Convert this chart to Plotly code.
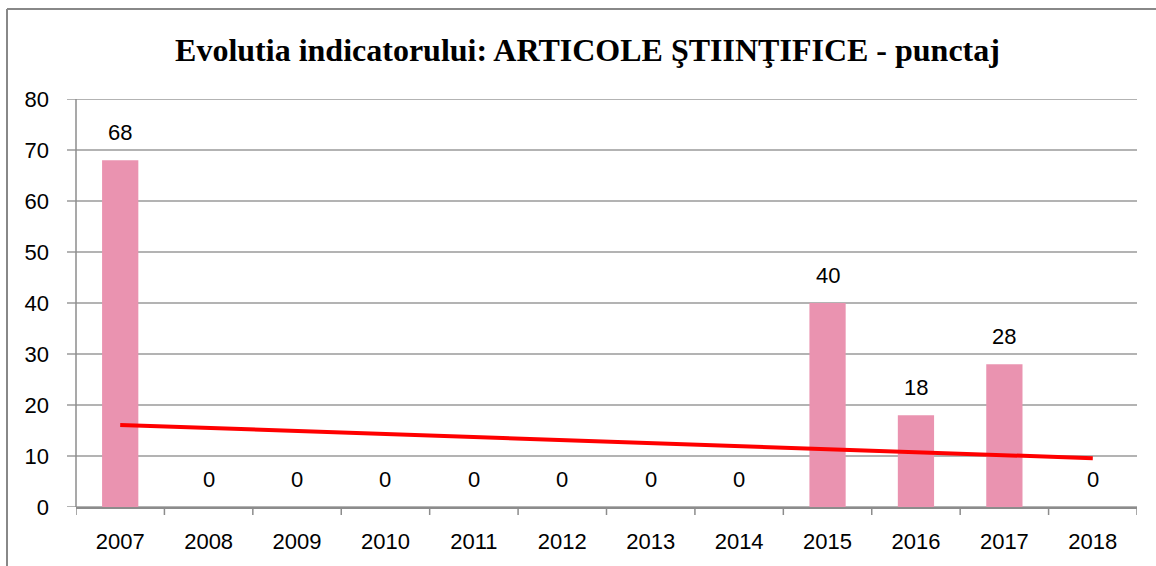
import numpy as np
import plotly.graph_objects as go

years = ["2007", "2008", "2009", "2010", "2011", "2012", "2013", "2014", "2015", "2016", "2017", "2018"]
values = [68, 0, 0, 0, 0, 0, 0, 0, 40, 18, 28, 0]
y_ticks = [0, 10, 20, 30, 40, 50, 60, 70, 80]

idx = np.arange(len(values))
slope, intercept = np.polyfit(idx, values, 1)
trend = slope * idx + intercept

W, H = 1156, 566
L, R, T, B = 76, 1137, 99, 507
pw, ph = R - L, B - T
FONT = "Liberation Sans, Arial"

fig = go.Figure()
fig.add_trace(go.Bar(
    x=idx, y=values, width=0.41,
    marker=dict(color="#EA93B0", line=dict(width=0)),
    hoverinfo="skip", showlegend=False,
))
fig.add_trace(go.Scatter(
    x=[idx[0], idx[-1]], y=[trend[0], trend[-1]], mode="lines",
    line=dict(color="#FF0000", width=4), showlegend=False, hoverinfo="skip",
))

annotations = []
for i, v in zip(idx, values):
    annotations.append(dict(x=i, y=v, xref="x", yref="y", text=str(v), showarrow=False,
                            yanchor="bottom", yshift=13,
                            font=dict(family=FONT, size=22, color="#000000")))

shapes = []
shapes.append(dict(type="line", xref="paper", yref="paper", x0=0, x1=0, y0=0, y1=1,
                   line=dict(color="#8C8C8C", width=1.5)))
for t in y_ticks:
    shapes.append(dict(type="line", xref="paper", yref="y", x0=-9 / pw, x1=1, y0=t, y1=t,
                       line=dict(color="#9A9A9A", width=1.5), layer="below"))
for k in range(len(years) + 1):
    shapes.append(dict(type="line", xref="x", yref="paper", x0=k - 0.5, x1=k - 0.5,
                       y0=0, y1=-8 / ph, line=dict(color="#8C8C8C", width=1.5)))
# outer chart border (left and top)
shapes.append(dict(type="line", xref="paper", yref="paper",
                   x0=(7 - L) / pw, x1=(W + 10 - L) / pw, y0=1 + (T - 9) / ph, y1=1 + (T - 9) / ph,
                   line=dict(color="#888888", width=2)))
shapes.append(dict(type="line", xref="paper", yref="paper",
                   x0=(7 - L) / pw, x1=(7 - L) / pw, y0=1 + (T - 9) / ph, y1=-(H + 10 - B) / ph,
                   line=dict(color="#888888", width=2)))

fig.update_layout(
    width=W, height=H,
    margin=dict(l=L, r=W - R, t=T, b=H - B, pad=0, autoexpand=False),
    paper_bgcolor="#FFFFFF", plot_bgcolor="#FFFFFF",
    title=dict(text="<b>Evolutia indicatorului: ARTICOLE ŞTIINŢIFICE - punctaj</b>",
               x=587.5 / W, xanchor="center", y=1 - 50 / H, yanchor="middle",
               font=dict(family="Liberation Serif, Times New Roman", size=32, color="#000000")),
    xaxis=dict(range=[-0.5, len(years) - 0.5], tickmode="array", tickvals=idx, ticktext=years,
               showgrid=False, zeroline=False, showline=True, linecolor="#8C8C8C", linewidth=1.5,
               ticks="", ticklabelstandoff=14, automargin=False,
               tickfont=dict(family=FONT, size=22, color="#000000")),
    yaxis=dict(range=[0, 80], tickmode="array", tickvals=y_ticks, showgrid=False,
               zeroline=False, showline=False, ticks="", ticklabelstandoff=26, automargin=False,
               tickfont=dict(family=FONT, size=22, color="#000000")),
    shapes=shapes,
    annotations=annotations,
)

fig.write_html("out.html", config={"displayModeBar": False},
               post_script="document.body.style.margin='0';document.body.style.overflow='hidden';")
